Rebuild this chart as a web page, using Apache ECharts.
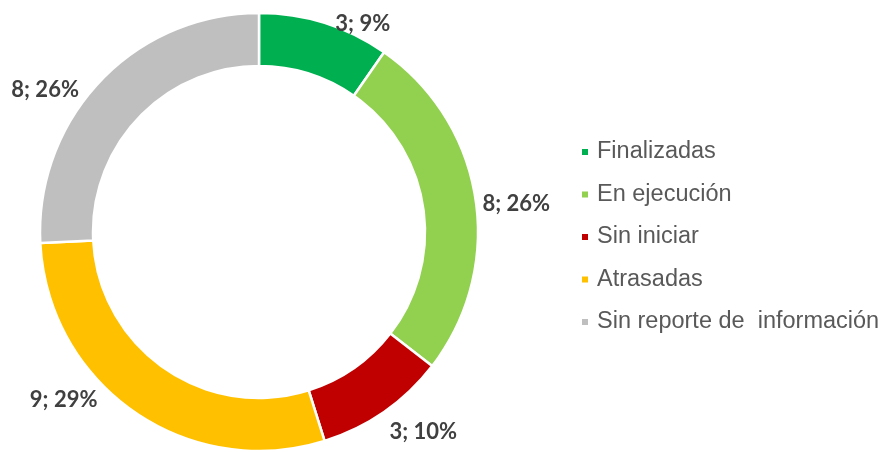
<!DOCTYPE html>
<html>
<head>
<meta charset="utf-8">
<script src="https://cdn.jsdelivr.net/npm/echarts@6/dist/echarts.min.js"></script>
<style>
  html, body { margin: 0; padding: 0; background: #fff; }
  #main { width: 887px; height: 452px; }
</style>
</head>
<body>
<div id="main"></div>
<script>
var categories = ['Finalizadas', 'En ejecución', 'Sin iniciar', 'Atrasadas', 'Sin reporte de  información'];
var values = [3, 8, 3, 9, 8];
var percents = ['9%', '26%', '10%', '29%', '26%'];
var colors = ['#00B050', '#92D050', '#C00000', '#FFC000', '#BFBFBF'];

var myChart = echarts.init(document.getElementById('main'));

var seriesData = categories.map(function (name, i) {
    return {
        name: name,
        value: values[i],
        pct: percents[i],
        itemStyle: { color: colors[i] }
    };
});

// nudge labels to where Excel put them
var labelShift = [[4, 7], [-4, 6], [-3, 15], [-28, -17], [-12, 13]];

var option = {
    animation: false,
    legend: {
        orient: 'vertical',
        left: 575,
        top: 135,
        itemWidth: 8,
        itemHeight: 8,
        itemGap: 18.5,
        icon: 'rect',
        textStyle: {
            fontFamily: 'Liberation Sans',
            fontSize: 23.5,
            color: '#595959',
            padding: [0, 0, 0, 3]
        },
        data: categories
    },
    series: [
        {
            type: 'pie',
            center: [259, 232],
            radius: [166, 219],
            startAngle: 90,
            clockwise: true,
            avoidLabelOverlap: false,
            itemStyle: {
                borderColor: '#fff',
                borderWidth: 2.5
            },
            label: {
                show: true,
                position: 'outside',
                fontFamily: 'Lato',
                fontWeight: 'bold',
                fontSize: 22,
                color: '#404040',
                formatter: function (p) {
                    return p.value + '; ' + p.data.pct;
                }
            },
            labelLine: {
                show: false,
                length: 6,
                length2: 0
            },
            labelLayout: function (params) {
                var s = labelShift[params.dataIndex];
                return { dx: s[0], dy: s[1] };
            },
            data: seriesData
        }
    ]
};

myChart.setOption(option);
</script>
</body>
</html>
